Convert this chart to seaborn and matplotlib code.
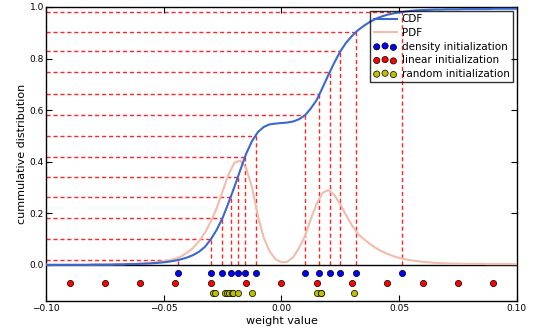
import numpy as np
import pandas as pd
import seaborn as sns
import matplotlib.pyplot as plt

# sample grid of weight values
weights = np.linspace(-0.1, 0.1, 81)

cdf = [0.000, 0.000, 0.000, 0.000, 0.000, 0.000, 0.000, 0.000, 0.001, 0.001,
       0.001, 0.001, 0.002, 0.002, 0.003, 0.003, 0.004, 0.005, 0.006, 0.008,
       0.010, 0.013, 0.017, 0.022, 0.029, 0.038, 0.051, 0.070, 0.099, 0.136,
       0.182, 0.240, 0.302, 0.367, 0.431, 0.480, 0.515, 0.535, 0.545, 0.548,
       0.550, 0.552, 0.556, 0.565, 0.580, 0.607, 0.640, 0.688, 0.738, 0.785,
       0.828, 0.862, 0.888, 0.910, 0.927, 0.942, 0.954, 0.963, 0.970, 0.975,
       0.979, 0.982, 0.985, 0.987, 0.988, 0.989, 0.990, 0.990, 0.991, 0.991,
       0.991, 0.992, 0.992, 0.992, 0.992, 0.992, 0.993, 0.993, 0.993, 0.993,
       0.993]

pdf = [0.001, 0.001, 0.001, 0.001, 0.001, 0.001, 0.001, 0.001, 0.001, 0.002,
       0.002, 0.002, 0.003, 0.003, 0.004, 0.004, 0.005, 0.007, 0.008, 0.011,
       0.014, 0.018, 0.024, 0.033, 0.048, 0.066, 0.092, 0.125, 0.168, 0.220,
       0.285, 0.350, 0.396, 0.405, 0.375, 0.300, 0.190, 0.105, 0.052, 0.022,
       0.010, 0.012, 0.030, 0.066, 0.112, 0.178, 0.238, 0.280, 0.290, 0.270,
       0.235, 0.192, 0.152, 0.120, 0.100, 0.082, 0.066, 0.053, 0.043, 0.034,
       0.027, 0.022, 0.018, 0.015, 0.012, 0.010, 0.008, 0.007, 0.006, 0.005,
       0.005, 0.004, 0.004, 0.004, 0.004, 0.003, 0.003, 0.003, 0.003, 0.003,
       0.003]

density_init = [-0.0441, -0.0299, -0.0251, -0.0216, -0.0185, -0.0155, -0.0110,
                0.0100, 0.0161, 0.0206, 0.0250, 0.0316, 0.0510]
linear_init = [-0.09, -0.075, -0.06, -0.045, -0.03, -0.015, 0.0,
               0.015, 0.03, 0.045, 0.06, 0.075, 0.09]
random_init = [-0.0290, -0.0282, -0.0240, -0.0230, -0.0222, -0.0212, -0.0205,
               -0.0186, -0.0125, 0.0152, 0.0166, 0.0168, 0.0308]

# rows for the centroid markers below the axis
y_density, y_linear, y_random = -0.03, -0.07, -0.11

curves = pd.DataFrame({'weight': weights, 'cdf': cdf, 'pdf': pdf})
levels = np.interp(density_init, weights, cdf)

fig = plt.figure(figsize=(5.34, 3.31), dpi=100)
ax = fig.add_axes([0.0861, 0.0906, 0.8819, 0.8883])

# dashed guides from each density centroid to the CDF
ax.hlines(levels, -0.1, density_init, colors='red', linestyles=(0, (3, 2)),
          linewidth=1, alpha=0.85, zorder=1)
ax.vlines(density_init, 0, levels, colors='red', linestyles=(0, (3, 2)),
          linewidth=1, alpha=0.85, zorder=1)
ax.axhline(0, color='black', linewidth=1, zorder=2)

sns.lineplot(data=curves, x='weight', y='cdf', ax=ax, color='#3a68cc',
             linewidth=1.5, label='CDF', zorder=4)
sns.lineplot(data=curves, x='weight', y='pdf', ax=ax, color='#f2bcad',
             linewidth=1.5, label='PDF', zorder=3)

sns.scatterplot(x=density_init, y=[y_density] * len(density_init), ax=ax,
                color='blue', edgecolor='black', linewidth=0.5, s=20,
                label='density initialization', zorder=5)
sns.scatterplot(x=linear_init, y=[y_linear] * len(linear_init), ax=ax,
                color='red', edgecolor='black', linewidth=0.5, s=20,
                label='linear initialization', zorder=5)
sns.scatterplot(x=random_init, y=[y_random] * len(random_init), ax=ax,
                color='#bfbf00', edgecolor='black', linewidth=0.5, s=20,
                label='random initialization', zorder=5)

ax.set_xlim(-0.1, 0.1)
ax.set_ylim(-0.14, 1.0)
ax.set_xticks([-0.1, -0.05, 0.0, 0.05, 0.1])
ax.set_yticks([0.0, 0.2, 0.4, 0.6, 0.8, 1.0])
ax.tick_params(direction='in', top=True, right=True, length=4, width=0.8,
               labelsize=6.5)
ax.tick_params(axis='y', pad=1.5)
ax.tick_params(axis='x', pad=2.5)
for sp in ax.spines.values():
    sp.set_color('black')
    sp.set_linewidth(1)

ax.set_xlabel('weight value', fontsize=8, labelpad=2)
ax.set_ylabel('cummulative distribution', fontsize=8, labelpad=2)

leg = ax.legend(loc='upper right', fontsize=7.5, scatterpoints=3,
                scatteryoffsets=[0.375, 0.5, 0.3125], fancybox=False,
                edgecolor='black', facecolor='none', framealpha=None,
                borderaxespad=0.4, handlelength=2.2, labelspacing=0.35,
                borderpad=0.3, handletextpad=0.5)
leg.get_frame().set_linewidth(1)

fig.savefig('out.png', dpi=100)
